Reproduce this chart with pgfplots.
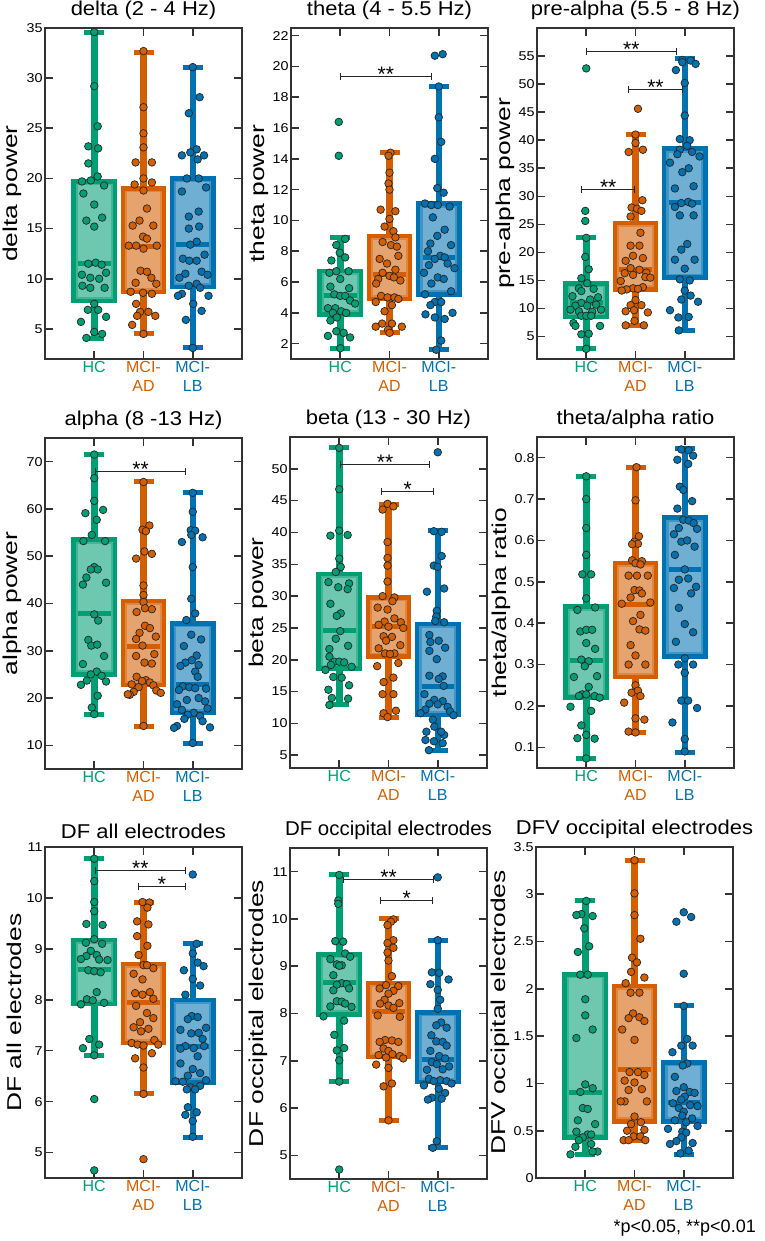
\documentclass[border=0pt]{standalone}
\usepackage{fontspec}
\setmainfont{Liberation Sans}
\usepackage{pgfplots}
\pgfplotsset{compat=1.18}
\usepgfplotslibrary{statistics}
\definecolor{hc}{HTML}{009E73}
\definecolor{ad}{HTML}{D55E00}
\definecolor{lb}{HTML}{0072B2}
\pgfplotsset{
 panel/.style={scale only axis, width=197pt, height=331pt, xmin=0, xmax=4,
  xtick={1,2,3},
  xticklabels={{\color{hc}HC},{\color{ad}MCI-}\\{\color{ad}AD},{\color{lb}MCI-}\\{\color{lb}LB}},
  xticklabel style={align=center, font=\fontsize{16}{19.5}\selectfont, anchor=north, inner sep=2pt},
  yticklabel style={font=\fontsize{12.8}{14}\selectfont, inner sep=2pt, xscale=1.12},
  /pgf/number format/assume math mode=true,
  tick align=inside, major tick length=8pt,
  tick style={line width=1.6pt, black!80},
  axis line style={line width=2pt, black!80},
  title style={font=\fontsize{20}{22}\selectfont, inner sep=2pt, xscale=1.1},
  ylabel style={font=\fontsize{20}{22}\selectfont, inner sep=2pt, xscale=1.32},
  boxplot/draw direction=y,
  clip=false, anchor=north west}
}
% color, pos, lower whisker, q1, median, q3, upper whisker, inner q1, inner q3
\newcommand{\grp}[9]{%
\addplot[draw=#1, line width=6.5pt, mark=-, mark size=10pt, mark options={line width=5pt, draw=#1}, mark indices={2}] coordinates {(#2,#6) (#2,#7)};
\addplot[draw=#1, line width=6.5pt, mark=-, mark size=10pt, mark options={line width=5pt, draw=#1}, mark indices={2}] coordinates {(#2,#4) (#2,#3)};
\addplot[boxplot prepared={draw position=#2, lower whisker=#4, lower quartile=#4, median=#5, upper quartile=#6, upper whisker=#6, box extend=0.84, whisker extend=0, draw direction=y,
 every box/.style={draw=#1, fill=#1!75!white, line width=4.5pt}, every median/.style={draw=none}, every whisker/.style={draw=none}}] coordinates {};
\addplot[boxplot prepared={draw position=#2, lower whisker=#8, lower quartile=#8, median=#5, upper quartile=#9, upper whisker=#9, box extend=0.66, whisker extend=0, draw direction=y,
 every box/.style={draw=none, fill=#1!57!white}, every median/.style={draw=#1, line width=5pt}, every whisker/.style={draw=none}}] coordinates {};
}
\newcommand{\pts}[2]{\addplot[only marks, mark=*, mark size=3.8pt, mark options={fill=#1, draw=black!85, line width=0.7pt}] coordinates {#2};}
\newcommand{\sig}[4]{%
\draw[line width=0.8pt, black!85] (axis cs:#1,#3) -- (axis cs:#2,#3);
\draw[line width=0.8pt, black!85] ([yshift=-3.5pt]axis cs:#1,#3) -- ([yshift=3.5pt]axis cs:#1,#3);
\draw[line width=0.8pt, black!85] ([yshift=-3.5pt]axis cs:#2,#3) -- ([yshift=3.5pt]axis cs:#2,#3);
\node[font=\fontsize{21}{21}\selectfont, anchor=base, yshift=-5pt, inner sep=0pt] at (axis cs:{(#1+#2)/2},#3) {#4};
}
\begin{document}
\begin{tikzpicture}
\path[use as bounding box] (0,0) rectangle (764pt,-1241pt);
% ---------------- delta
\begin{axis}[panel, at={(45pt,-28pt)}, ymin=2, ymax=35, ytick={5,10,...,35}, title={delta (2 - 4 Hz)}, ylabel={delta power}]
\grp{hc}{1}{4.0}{7.8}{11.5}{19.7}{34.6}{8.2}{19.3}
\pts{hc}{(1,34.6)(1,29.2)(1.07,25.2)(0.88,23.2)(1.08,23.0)(0.88,21.5)(1.07,20.2)(0.75,19.7)(0.93,19.8)(1.2,19.3)(0.78,18.5)(1.0,17.4)(0.84,15.8)(1.16,16.1)(1.0,15.2)(0.88,11.5)(1.03,11.6)(1.15,11.4)(0.75,10.4)(0.92,10.1)(1.1,10.0)(1.24,10.6)(0.76,9.3)(0.92,9.1)(1.21,9.1)(1.0,7.5)(0.87,6.9)(1.08,6.9)(0.73,5.7)(1.24,6.2)(1.0,4.7)(0.84,4.1)(1.16,4.5)}
\grp{ad}{2}{4.5}{8.7}{13.2}{19.0}{32.6}{9.1}{18.6}
\pts{ad}{(2,32.7)(2,27.1)(2,24.5)(2,23.1)(1.84,21.6)(2.17,21.6)(2.0,20.0)(1.82,19.4)(2.17,19.6)(2.0,18.8)(2.07,17.0)(1.92,15.8)(1.78,15.3)(2.2,15.3)(1.99,14.2)(2.07,14.0)(1.7,13.3)(1.85,13.3)(2.0,13.0)(2.27,13.3)(1.94,10.8)(2.07,10.7)(2.16,10.1)(1.84,9.6)(2.26,9.5)(1.74,8.7)(1.99,8.6)(2.17,8.5)(1.85,7.5)(1.93,6.7)(2.1,6.7)(1.87,6.3)(2.24,6.3)(1.77,5.4)(2.0,4.5)}
\grp{lb}{3}{3.1}{9.2}{13.4}{20.0}{31.1}{9.6}{19.6}
\pts{lb}{(3,31.1)(3.14,28.1)(2.92,26.5)(3.08,22.9)(2.95,22.6)(2.78,22.3)(3.23,22.3)(3.1,21.9)(2.88,20.0)(3.12,20.0)(3.27,19.1)(2.78,18.7)(3.12,16.7)(2.92,16.2)(3.13,15.2)(2.92,15.0)(3.08,13.7)(2.95,13.4)(3.24,12.4)(2.8,12.0)(2.93,11.8)(3.08,11.8)(3.18,10.7)(2.85,10.5)(3.3,10.4)(2.73,10.1)(3.08,9.5)(2.92,9.3)(3.15,9.1)(2.78,8.5)(3.32,8.3)(2.7,8.3)(3.01,7.5)(3.18,6.8)(2.86,5.9)(3,3.1)}
\end{axis}
% ---------------- theta
\begin{axis}[panel, at={(291pt,-28pt)}, ymin=1, ymax=22.5, ytick={2,4,...,22}, title={theta (4 - 5.5 Hz)}, ylabel={theta power}]
\grp{hc}{1}{1.7}{3.9}{5.1}{6.7}{8.9}{4.16}{6.44}
\pts{hc}{(0.97,16.4)(0.97,14.2)(1.1,8.8)(0.92,8.4)(0.99,7.9)(0.82,7.4)(1.1,7.6)(0.78,6.6)(0.92,6.7)(1.17,6.7)(1.0,6.2)(0.8,5.7)(1.18,5.6)(0.88,5.2)(1.0,5.1)(1.1,5.1)(1.2,4.8)(0.75,4.3)(1.3,4.6)(0.9,4.3)(1.02,4.1)(1.12,4.0)(0.85,4.0)(0.8,3.5)(0.93,3.7)(0.92,2.8)(1.07,2.7)(0.75,2.5)(1.2,2.4)(1.0,1.7)}
\grp{ad}{2}{2.7}{4.9}{6.5}{9.0}{14.4}{5.16}{8.74}
\pts{ad}{(2.02,14.4)(1.98,14.2)(2.0,13.1)(1.98,12.4)(2.0,12.0)(1.82,10.7)(2.12,10.6)(2.0,10.1)(1.9,9.6)(2.08,9.3)(2.12,8.9)(1.86,8.6)(2.03,8.4)(2.15,8.3)(1.8,7.5)(2.18,7.7)(1.95,7.2)(2.12,6.8)(1.86,6.6)(2.0,6.4)(2.09,6.3)(1.77,6.2)(2.22,6.1)(1.73,5.9)(1.83,5.1)(1.96,5.0)(2.1,5.0)(2.18,4.9)(1.72,4.7)(2.05,4.5)(1.9,4.1)(1.85,3.3)(2.05,3.3)(1.72,3.1)(2.25,3.1)(1.97,2.9)(2.0,2.7)}
\grp{lb}{3}{1.6}{5.2}{7.6}{11.1}{18.7}{5.46}{10.84}
\pts{lb}{(2.92,20.7)(3.08,20.8)(3.0,18.7)(3.0,16.7)(3.05,15.1)(2.92,14.0)(2.97,12.1)(3.1,11.8)(2.72,11.1)(2.85,11.0)(2.98,11.0)(3.22,10.9)(2.88,10.2)(3.12,9.4)(2.97,9.0)(2.83,8.5)(3.25,8.4)(2.78,8.0)(3.03,7.7)(3.12,7.6)(2.92,7.5)(3.18,7.2)(2.8,7.1)(3.32,6.9)(2.7,6.6)(2.98,6.3)(3.1,6.2)(2.85,5.9)(3.25,5.4)(2.72,5.2)(2.92,4.7)(3.05,4.7)(2.83,4.5)(2.73,3.9)(3.28,4.0)(2.92,3.7)(3.12,3.6)(3.05,2.2)(2.95,1.6)}
\sig{1}{2.85}{19.35}{**}
\end{axis}
% ---------------- pre-alpha
\begin{axis}[panel, at={(537pt,-28pt)}, ymin=1, ymax=60, ytick={5,10,...,55}, title={pre-alpha (5.5 - 8 Hz)}, ylabel={pre-alpha power}]
\grp{hc}{1}{2.8}{8.5}{11.0}{14.5}{22.7}{9.21}{13.79}
\pts{hc}{(1.0,52.8)(0.98,27.4)(0.98,25.6)(1.0,22.6)(0.98,19.2)(1.05,17.0)(0.9,15.4)(1.02,14.5)(0.85,13.6)(1.15,13.5)(0.72,12.2)(1.24,12.0)(0.9,13.1)(1.08,11.6)(0.9,11.0)(1.2,10.7)(0.78,10.5)(1.02,10.5)(0.68,9.8)(1.3,9.8)(0.85,9.5)(1.12,9.4)(0.9,8.7)(1.0,8.7)(1.1,8.7)(0.74,7.4)(0.78,6.9)(1.28,6.9)(0.9,5.4)(1.05,5.5)(1.0,2.8)}
\grp{ad}{2}{7.0}{13.4}{17.0}{25.2}{41.0}{14.11}{24.49}
\pts{ad}{(2.05,45.6)(2.0,41.0)(2.0,39.5)(1.86,37.9)(2.15,38.3)(2.14,29.3)(1.92,28.0)(2.03,27.8)(2.12,27.4)(1.9,26.4)(2.1,23.5)(1.9,21.2)(2.08,21.2)(1.95,19.4)(2.15,19.0)(1.8,18.5)(1.9,17.2)(2.08,16.9)(2.22,16.4)(1.78,16.3)(1.95,16.0)(2.2,15.6)(2.3,15.5)(1.7,14.9)(2.15,13.8)(1.95,13.6)(1.82,13.4)(2.05,13.5)(1.72,13.2)(2.0,11.5)(1.9,10.6)(2.12,10.6)(1.8,9.5)(2.25,9.3)(1.97,9.7)(1.98,7.8)(1.8,7.0)(2.17,7.0)}
\grp{lb}{3}{6.1}{15.5}{28.9}{38.5}{54.5}{16.21}{37.79}
\pts{lb}{(2.95,54.3)(3.12,54.2)(2.95,53.9)(3.22,53.6)(2.82,52.5)(3.0,50.2)(3.0,44.4)(2.9,40.2)(3.1,40.0)(3.05,39.0)(2.9,38.3)(3.15,37.9)(2.85,37.5)(3.3,37.1)(2.7,36.0)(3.08,35.0)(2.95,34.3)(3.18,31.8)(2.8,31.4)(3.07,29.0)(2.93,28.8)(3.15,28.7)(2.8,28.1)(2.9,26.6)(3.18,26.6)(3.05,21.5)(2.93,20.5)(2.8,18.7)(3.2,18.7)(3.0,17.1)(2.9,15.2)(3.1,15.0)(3.0,13.2)(3.12,12.3)(3.27,11.2)(2.93,11.6)(2.7,9.7)(3.08,8.5)(2.87,8.4)(2.88,6.1)}
\sig{1}{2.83}{55.8}{**}
\sig{1.86}{2.95}{49.0}{**}
\sig{0.91}{1.98}{31.3}{**}
\end{axis}
% ---------------- alpha
\begin{axis}[panel, at={(45pt,-438pt)}, ymin=5, ymax=75, ytick={10,20,...,70}, title={alpha (8 -13 Hz)}, ylabel={alpha power}]
\grp{hc}{1}{16.5}{25.0}{37.8}{53.5}{71.5}{25.85}{52.65}
\pts{hc}{(1.0,71.5)(1.0,66.5)(1.0,61.7)(0.82,59.1)(1.18,59.8)(1.05,57.7)(0.95,54.5)(0.78,53.2)(1.22,53.2)(1.0,47.7)(1.07,47.2)(0.93,47.2)(0.84,45.5)(1.24,44.4)(0.77,44.0)(1.0,37.7)(1.08,36.4)(0.88,32.3)(0.94,31.1)(1.06,31.3)(1.2,28.9)(0.77,27.2)(1.05,25.6)(0.93,25.0)(1.15,24.7)(0.85,23.7)(1.24,23.5)(0.73,22.8)(1.07,20.5)(0.95,18.0)(1.0,16.6)}
\grp{ad}{2}{14.0}{22.8}{31.0}{40.5}{65.8}{23.65}{39.65}
\pts{ad}{(2.0,65.7)(2.12,56.5)(1.98,55.6)(2.05,55.3)(2.02,51.0)(2.17,50.5)(1.85,49.5)(2.0,43.8)(2.0,41.8)(2.0,40.3)(1.86,38.2)(2.03,39.0)(2.17,38.8)(2.03,35.3)(2.13,34.8)(1.92,33.8)(2.25,33.0)(1.85,32.5)(1.98,31.1)(2.22,29.3)(1.85,28.9)(2.02,27.5)(2.17,27.3)(1.86,24.5)(2.05,23.8)(1.97,23.6)(2.13,23.3)(1.76,22.9)(2.2,22.7)(1.9,22.3)(2.26,21.6)(1.8,21.3)(2.35,21.1)(1.72,20.7)(1.68,20.8)(2.0,14.1)}
\grp{lb}{3}{10.4}{16.8}{22.8}{35.8}{63.4}{17.65}{34.95}
\pts{lb}{(3.0,63.4)(3.0,59.4)(2.96,55.5)(3.05,55.4)(2.97,54.5)(2.78,53.0)(3.2,54.0)(3.0,47.7)(2.97,41.0)(3.05,37.9)(2.87,36.5)(2.97,33.4)(3.17,32.4)(2.82,31.0)(3.08,29.0)(2.98,28.0)(2.85,27.5)(3.12,27.0)(2.75,26.8)(3.05,25.6)(3.1,24.5)(2.8,22.5)(2.93,22.3)(3.05,22.1)(3.27,22.0)(2.72,21.7)(3.12,20.0)(2.88,19.6)(3.25,19.3)(2.68,18.7)(3.3,17.8)(2.78,17.5)(3.02,16.9)(2.9,16.5)(3.15,16.2)(2.83,15.6)(3.2,15.1)(2.68,14.1)(3.35,13.8)(2.62,13.7)(3.0,10.5)}
\sig{1.02}{2.86}{67.9}{**}
\end{axis}
% ---------------- beta
\begin{axis}[panel, at={(290pt,-437pt)}, ymin=3, ymax=55, ytick={5,10,...,50}, title={beta (13 - 30 Hz)}, ylabel={beta power}]
\grp{hc}{1}{12.9}{18.6}{24.6}{33.5}{53.3}{19.23}{32.87}
\pts{hc}{(1.0,53.3)(1.0,46.8)(1.0,40.3)(0.82,39.5)(1.17,39.6)(1.0,35.9)(1.03,34.6)(0.93,33.8)(0.78,32.2)(1.2,32.0)(0.98,31.4)(1.17,31.1)(0.82,28.8)(1.03,27.3)(0.95,26.9)(1.02,24.5)(0.93,23.3)(1.18,22.2)(0.8,21.7)(0.8,20.5)(0.9,19.7)(1.0,19.7)(1.1,19.6)(0.83,19.2)(1.25,18.9)(0.72,18.4)(0.88,17.3)(1.05,17.2)(1.2,16.0)(0.78,15.3)(0.85,14.0)(1.18,13.9)(0.8,12.9)}
\grp{ad}{2}{11.0}{20.5}{25.3}{29.8}{44.4}{21.13}{29.17}
\pts{ad}{(1.98,44.5)(2.1,44.1)(1.88,43.6)(1.98,38.5)(1.98,36.0)(1.98,34.8)(1.98,32.3)(1.88,30.0)(2.12,29.8)(2.08,29.2)(1.78,28.2)(1.98,27.9)(2.12,26.5)(1.92,26.0)(2.25,25.9)(1.8,25.5)(2.0,25.2)(2.3,25.0)(1.9,23.7)(2.07,23.6)(1.95,23.0)(2.24,22.3)(1.8,21.8)(1.93,21.0)(2.12,21.0)(2.03,20.9)(2.2,19.5)(1.77,19.0)(2.1,17.2)(1.9,16.5)(1.88,14.6)(2.1,14.6)(2.15,12.0)(1.9,11.6)(1.98,11.0)}
\grp{lb}{3}{5.7}{11.3}{15.8}{25.6}{40.3}{11.93}{24.97}
\pts{lb}{(3.0,52.6)(2.92,40.2)(3.08,40.1)(3.08,36.3)(2.92,34.8)(3.0,34.6)(2.78,30.7)(3.13,31.2)(2.98,27.7)(2.97,26.8)(2.95,26.1)(3.13,25.9)(2.83,23.9)(3.02,23.0)(2.85,22.8)(3.15,21.9)(2.83,21.4)(2.98,20.1)(2.83,17.5)(3.1,17.4)(3.02,17.0)(3.12,15.9)(2.73,14.6)(2.93,13.7)(3.1,13.5)(2.83,13.1)(3.0,13.0)(3.2,12.6)(2.75,12.2)(3.25,11.9)(2.65,11.6)(3.32,11.3)(2.9,10.6)(2.93,9.5)(2.77,8.7)(3.13,8.2)(3.07,8.7)(2.75,7.4)(2.92,7.2)(3.1,6.9)(2.82,5.8)}
\sig{1.02}{2.84}{50.7}{**}
\sig{1.86}{2.92}{46.5}{*}
\end{axis}
% ---------------- theta/alpha
\begin{axis}[panel, at={(537pt,-437pt)}, ymin=0.05, ymax=0.85, ytick={0.1,0.2,0.3,0.4,0.5,0.6,0.7,0.8}, title={theta/alpha ratio}, ylabel={theta/alpha ratio}]
\grp{hc}{1}{0.073}{0.22}{0.31}{0.44}{0.755}{0.2297}{0.4303}
\pts{hc}{(1.0,0.755)(1.0,0.700)(1.0,0.630)(1.0,0.565)(0.92,0.518)(1.1,0.518)(1.0,0.460)(0.82,0.432)(1.18,0.438)(0.88,0.380)(1.0,0.384)(1.12,0.384)(1.0,0.352)(1.18,0.338)(0.9,0.312)(1.05,0.308)(0.97,0.296)(0.75,0.270)(1.22,0.272)(1.05,0.246)(0.92,0.228)(0.85,0.224)(1.0,0.228)(1.17,0.224)(1.27,0.220)(0.68,0.198)(1.1,0.188)(0.9,0.153)(1.0,0.130)(0.82,0.122)(1.17,0.121)(1.0,0.073)}
\grp{ad}{2}{0.135}{0.27}{0.445}{0.545}{0.777}{0.2797}{0.5353}
\pts{ad}{(2.02,0.777)(2.0,0.697)(2.07,0.610)(1.98,0.597)(2.05,0.592)(1.93,0.591)(1.93,0.552)(2.13,0.550)(2.0,0.545)(2.1,0.542)(1.86,0.515)(2.03,0.515)(2.25,0.515)(1.98,0.480)(2.08,0.479)(2.13,0.472)(1.9,0.462)(2.3,0.450)(1.72,0.447)(2.1,0.420)(1.95,0.405)(2.08,0.385)(2.2,0.382)(1.9,0.347)(2.0,0.322)(1.86,0.300)(2.2,0.300)(2.0,0.250)(1.92,0.232)(2.05,0.237)(2.1,0.224)(1.77,0.208)(2.0,0.170)(2.18,0.167)(1.86,0.138)(2.0,0.136)}
\grp{lb}{3}{0.088}{0.32}{0.53}{0.655}{0.822}{0.3297}{0.6453}
\pts{lb}{(2.93,0.820)(3.08,0.818)(3.17,0.805)(2.85,0.795)(3.07,0.785)(2.9,0.730)(2.97,0.722)(3.15,0.695)(2.85,0.677)(2.97,0.650)(3.08,0.648)(3.18,0.642)(2.88,0.630)(3.25,0.628)(2.78,0.615)(2.93,0.597)(3.05,0.600)(3.2,0.585)(2.8,0.565)(3.0,0.530)(2.88,0.505)(3.07,0.508)(2.78,0.485)(3.23,0.488)(3.13,0.472)(2.88,0.437)(3.0,0.398)(3.17,0.378)(2.82,0.355)(3.0,0.315)(2.87,0.300)(3.17,0.300)(3.0,0.280)(2.93,0.213)(3.07,0.213)(3.25,0.195)(2.75,0.160)(3.0,0.120)(3.0,0.090)}
\end{axis}
% ---------------- DF all
\begin{axis}[panel, at={(45pt,-847pt)}, ymin=4.5, ymax=11, ytick={5,6,...,11}, title={DF all electrodes}, ylabel={DF all electrodes}]
\grp{hc}{1}{6.9}{7.92}{8.6}{9.17}{10.77}{8.0}{9.09}
\pts{hc}{(1.0,10.77)(1.0,10.33)(1.0,9.92)(1.0,9.74)(0.84,9.49)(1.17,9.47)(1.0,9.19)(0.83,9.12)(1.16,9.10)(0.93,8.96)(1.05,8.88)(0.84,8.86)(0.73,8.80)(1.1,8.79)(1.27,8.78)(0.88,8.58)(1.0,8.56)(1.13,8.54)(1.05,8.15)(0.85,8.01)(0.97,7.99)(1.2,7.94)(0.73,7.91)(0.9,7.23)(1.1,7.12)(0.77,7.05)(1.0,6.91)(1.0,6.05)(1.0,4.65)}
\grp{ad}{2}{6.15}{7.15}{7.95}{8.7}{9.92}{7.23}{8.62}
\pts{ad}{(1.98,9.92)(2.12,9.91)(2.08,9.81)(1.87,9.54)(2.1,9.48)(1.87,9.25)(2.08,9.06)(1.9,8.88)(2.0,8.68)(2.07,8.68)(2.2,8.62)(1.8,8.51)(1.98,8.40)(1.83,8.13)(2.13,8.15)(1.98,8.10)(2.2,8.02)(1.85,7.88)(2.07,7.74)(2.2,7.64)(1.93,7.56)(1.8,7.46)(2.1,7.43)(1.95,7.38)(2.22,7.21)(1.76,7.15)(1.88,7.12)(2.3,7.12)(2.0,7.10)(2.17,6.95)(1.83,6.85)(2.0,6.67)(2.0,6.15)(2.0,4.87)}
\grp{lb}{3}{5.3}{6.38}{7.08}{8.0}{9.1}{6.46}{7.92}
\pts{lb}{(3.0,10.46)(3.08,9.10)(3.0,8.91)(3.1,8.73)(3.22,8.66)(2.82,8.58)(3.0,8.41)(3.15,8.28)(2.85,8.10)(2.98,7.68)(3.1,7.66)(2.9,7.62)(3.27,7.45)(2.75,7.41)(2.97,7.34)(3.12,7.35)(3.2,7.23)(2.85,7.09)(3.02,7.05)(2.75,7.04)(3.23,7.09)(3.1,6.89)(2.75,6.75)(3.0,6.64)(3.15,6.56)(2.9,6.51)(3.27,6.42)(2.65,6.40)(2.8,6.39)(3.15,6.31)(2.95,6.28)(3.05,6.24)(2.88,6.24)(2.9,5.89)(2.85,5.74)(3.08,5.79)(3.0,5.62)(3.0,5.31)}
\sig{1.02}{2.85}{10.54}{**}
\sig{1.9}{2.85}{10.22}{*}
\end{axis}
% ---------------- DF occipital
\begin{axis}[panel, at={(290pt,-848pt)}, ymin=4.5, ymax=11.5, ytick={5,6,...,11}, title={DF occipital electrodes}, ylabel={DF occipital electrodes}, title style={xscale=0.93}]
\grp{hc}{1}{6.56}{7.98}{8.65}{9.25}{10.93}{8.07}{9.17}
\pts{hc}{(1.0,10.93)(0.98,10.39)(0.98,10.32)(0.92,9.53)(1.08,9.52)(1.12,9.27)(0.82,9.15)(1.22,9.20)(0.95,9.04)(1.05,9.02)(1.0,9.01)(0.88,8.81)(1.05,8.64)(0.95,8.61)(1.15,8.62)(0.88,8.49)(1.2,8.53)(0.95,8.26)(1.05,8.25)(0.82,8.15)(1.12,8.21)(1.25,8.14)(0.68,7.94)(1.1,7.85)(0.9,7.55)(0.95,7.22)(1.1,7.27)(1.0,7.01)(1.0,6.56)(1.0,4.70)}
\grp{ad}{2}{5.74}{7.08}{8.05}{8.65}{10.0}{7.17}{8.57}
\pts{ad}{(2.1,9.99)(2.05,9.94)(1.98,9.87)(2.1,9.55)(1.98,9.49)(2.1,9.39)(1.98,9.29)(2.0,9.12)(2.07,8.79)(1.95,8.60)(2.2,8.58)(1.82,8.53)(2.1,8.48)(2.0,8.42)(1.92,8.29)(2.22,8.22)(1.83,8.21)(2.0,8.17)(2.1,8.12)(1.78,7.96)(2.23,7.93)(1.93,7.44)(2.07,7.43)(1.82,7.40)(2.2,7.40)(1.9,7.26)(2.0,7.21)(2.08,7.14)(1.8,7.12)(2.23,7.10)(1.95,7.07)(2.3,7.05)(1.75,6.92)(2.0,6.85)(2.07,6.52)(1.9,6.46)(2.0,5.74)}
\grp{lb}{3}{5.16}{6.55}{7.03}{8.02}{9.55}{6.64}{7.94}
\pts{lb}{(3.0,10.88)(3.0,9.55)(2.88,8.87)(3.03,8.86)(3.22,8.72)(2.85,8.62)(3.0,8.50)(3.05,8.29)(3.0,8.10)(3.07,7.81)(2.97,7.75)(3.18,7.70)(2.87,7.54)(2.97,7.41)(3.1,7.40)(3.18,7.32)(2.85,7.21)(3.03,7.10)(3.15,7.05)(2.88,6.97)(2.98,6.93)(3.23,6.88)(2.78,6.81)(3.1,6.82)(2.82,6.62)(3.05,6.59)(2.92,6.57)(3.18,6.57)(2.72,6.48)(3.28,6.52)(3.02,6.41)(3.15,6.32)(2.88,6.22)(2.8,6.18)(3.08,6.20)(2.98,5.30)(2.9,5.16)}
\sig{1.08}{2.92}{10.84}{**}
\sig{1.84}{2.9}{10.40}{*}
\end{axis}
% ---------------- DFV occipital
\begin{axis}[panel, at={(536pt,-847pt)}, ymin=0, ymax=3.5, ytick={0,0.5,...,3.5}, title={DFV occipital electrodes}, ylabel={DFV occipital electrodes}]
\grp{hc}{1}{0.25}{0.43}{0.9}{2.15}{2.93}{0.47}{2.11}
\pts{hc}{(1.02,2.93)(0.92,2.79)(0.82,2.78)(1.15,2.77)(0.98,2.64)(1.08,2.45)(0.85,2.39)(0.9,2.15)(1.05,2.15)(1.0,1.89)(1.0,1.72)(1.15,1.57)(0.82,1.48)(1.0,0.99)(1.15,0.95)(0.9,0.91)(0.95,0.74)(1.05,0.73)(0.85,0.61)(1.2,0.57)(0.82,0.49)(1.05,0.46)(1.12,0.46)(0.95,0.43)(0.87,0.40)(1.12,0.36)(0.8,0.33)(1.25,0.28)(1.15,0.28)(0.7,0.25)}
\grp{ad}{2}{0.4}{0.6}{1.15}{2.03}{3.36}{0.64}{1.99}
\pts{ad}{(2.0,3.36)(2.0,3.01)(2.0,2.78)(2.12,2.53)(1.95,2.33)(2.05,2.28)(1.93,2.18)(2.2,2.12)(1.82,2.06)(1.92,1.96)(2.1,1.96)(1.97,1.74)(1.88,1.69)(2.1,1.70)(2.2,1.66)(1.75,1.57)(2.0,1.46)(1.9,1.12)(2.07,1.12)(2.2,1.09)(1.8,1.03)(2.0,1.01)(2.15,0.94)(1.88,0.93)(2.25,0.81)(1.8,0.81)(1.72,0.81)(2.0,0.65)(2.13,0.59)(1.93,0.57)(1.85,0.50)(2.2,0.51)(1.98,0.44)(2.12,0.44)(1.78,0.40)(1.88,0.40)(2.22,0.40)}
\grp{lb}{3}{0.25}{0.6}{0.8}{1.22}{1.82}{0.64}{1.18}
\pts{lb}{(2.85,2.71)(3.0,2.81)(3.15,2.76)(3.0,2.16)(3.0,1.82)(3.07,1.47)(2.95,1.40)(3.18,1.40)(2.77,1.33)(3.07,1.21)(2.98,1.19)(2.82,1.07)(3.0,0.96)(2.85,0.92)(3.12,0.91)(3.22,0.90)(3.02,0.86)(2.95,0.83)(2.78,0.79)(3.13,0.77)(3.28,0.76)(2.9,0.74)(3.0,0.70)(2.97,0.66)(3.17,0.63)(2.82,0.61)(3.05,0.59)(3.28,0.55)(2.68,0.52)(2.97,0.49)(3.05,0.48)(2.95,0.43)(2.85,0.39)(3.18,0.37)(2.72,0.36)(3.1,0.29)(2.93,0.26)}
\end{axis}
\node[anchor=base east, font=\fontsize{18}{20}\selectfont, inner sep=0pt] at (756pt,-1232pt) {*p<0.05, **p<0.01};
\end{tikzpicture}
\end{document}
